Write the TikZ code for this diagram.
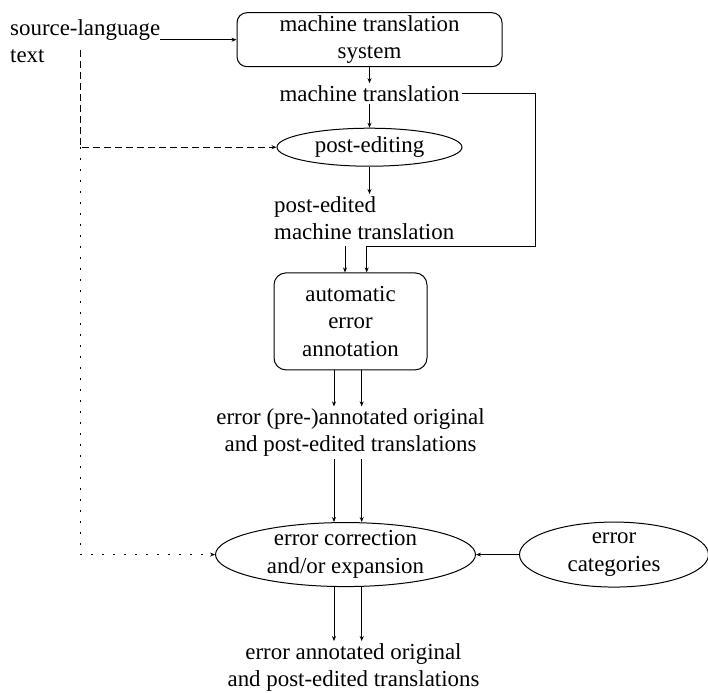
\documentclass[tikz,border=0pt]{standalone}
\usepackage{fontspec}
\setmainfont{Liberation Serif}
\usetikzlibrary{shapes.geometric,arrows.meta,positioning}

\begin{document}
\begin{tikzpicture}[x=1pt, y=-1pt, font=\fontsize{22.9pt}{27.5pt}\selectfont,
    >={Stealth[length=5pt,width=4pt]},
    box/.style={rectangle, rounded corners=10pt, draw, line width=1pt, align=center, inner sep=0pt},
    oval/.style={ellipse, draw, line width=1pt, align=center, inner xsep=0pt, inner ysep=-3pt},
    lbl/.style={inner sep=2pt, align=center},
    flow/.style={->, line width=0.8pt},
    fdash/.style={flow, dash pattern=on 7pt off 4pt},
    fdot/.style={flow, dash pattern=on 1.5pt off 9.5pt}]
  \useasboundingbox (0,0) rectangle (708,692);
  \node(mts) [box, minimum width=265pt, minimum height=54pt] at (369.5,39.7) {machine translation\\system};
  \node(src) [anchor=west, align=left, inner sep=0pt] at (10,41) {source-language\\text};
  \node(mtl) [lbl, below=16pt of mts] {machine translation};
  \node(pe) [oval, minimum width=185pt, minimum height=38pt, below=24pt of mtl] {post-editing};
  \node(pem) [lbl, align=left, anchor=north west] at (272,194) {post-edited\\machine translation};
  \node(aea) [box, rounded corners=12pt, minimum width=153pt, minimum height=97pt] at (350.5,321.4) {automatic\\error\\annotation};
  \node(eap) [lbl, below=36pt of aea] {error (pre-)annotated original\\and post-edited translations};
  \node(ece) [oval, minimum width=260pt, minimum height=64pt, below=63pt of eap, xshift=-5pt] {error correction\\and/or expansion};
  \node(cat) [oval, minimum width=189pt, minimum height=65pt, right=43pt of ece] {error\\categories};
  \node(out) [lbl, below=54pt of ece, xshift=8pt] {error annotated original\\and post-edited translations};

  \coordinate (tap) at (80.7,50);
  \coordinate (rt) at (535,246);

  \draw[flow] (src.east |- mts.west) -- (mts.west);
  \draw[flow] (mts.south) -- (mtl.north);
  \draw[flow] (mtl.south) -- (pe.north);
  \draw[flow] (pe.south) -- (pe.south |- pem.north);
  \draw[flow] (mtl.east) -| (rt) -| ([xshift=16.2pt]aea.north);
  \draw[flow] ([xshift=-5.5pt]aea.north |- rt) -- ([xshift=-5.5pt]aea.north);
  \draw[fdash] (tap) |- (pe.west);
  \draw[fdot] (tap |- pe.west) |- (ece.west);
  % two strands: original and post-edited
  \draw[flow] ([xshift=-16.5pt]aea.south) -- ([xshift=-16.5pt]aea.south |- eap.north);
  \draw[flow] ([xshift=11.2pt]aea.south) -- ([xshift=11.2pt]aea.south |- eap.north);
  \draw[flow] ([xshift=-16.5pt]aea.south |- eap.south) -- ([xshift=-16.5pt]aea.south |- ece.north);
  \draw[flow] ([xshift=11.2pt]aea.south |- eap.south) -- ([xshift=11.2pt]aea.south |- ece.north);
  \draw[flow] ([xshift=-16.5pt]aea.south |- ece.south) -- ([xshift=-16.5pt]aea.south |- out.north);
  \draw[flow] ([xshift=11.2pt]aea.south |- ece.south) -- ([xshift=11.2pt]aea.south |- out.north);
  \draw[flow] (cat.west) -- (ece.east);
\end{tikzpicture}
\end{document}
